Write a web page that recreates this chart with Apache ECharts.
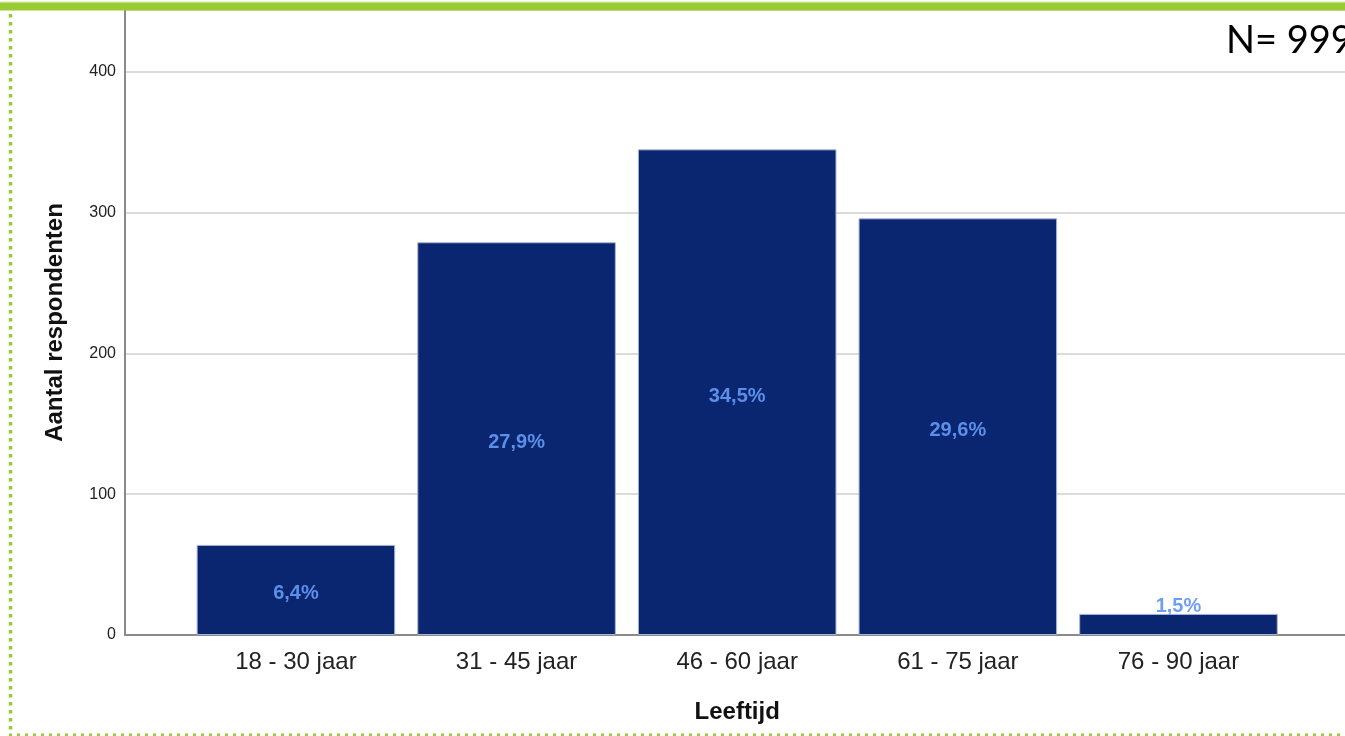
<!DOCTYPE html>
<html>
<head>
<meta charset="utf-8">
<script src="https://cdn.jsdelivr.net/npm/echarts@6/dist/echarts.min.js"></script>
<style>
html,body{margin:0;padding:0;background:#fff;}
#c{width:1345px;height:736px;}
</style>
</head>
<body>
<div id="c"></div>
<script>
const categories = ['18 - 30 jaar', '31 - 45 jaar', '46 - 60 jaar', '61 - 75 jaar', '76 - 90 jaar'];
const counts = [64, 279, 345, 296, 15];
const percentLabels = ['6,4%', '27,9%', '34,5%', '29,6%', '1,5%'];
const yMin = 0, yMax = 444, yInterval = 100;
const xTitle = 'Leeftijd';
const yTitle = 'Aantal respondenten';
const nText = 'N= 999';

const FONT = 'Liberation Sans, Arial, sans-serif';
const chart = echarts.init(document.getElementById('c'), null, {renderer: 'canvas'});

const barData = counts.map(function (v, i) {
  const small = v < 30;
  return {
    value: v,
    label: {
      show: true,
      formatter: percentLabels[i],
      position: small ? 'top' : 'inside',
      distance: small ? -3 : 5,
      offset: small ? [0, 0] : [0, 4],
      color: small ? '#6f9ef5' : '#5b8fe8'
    }
  };
});

chart.setOption({
  animation: false,
  backgroundColor: '#fff',
  grid: [
    {left: 125, right: 0, top: 10, bottom: 101, containLabel: false},
    {left: 185.6, right: 56.2, top: 10, bottom: 101, containLabel: false}
  ],
  xAxis: [
    {gridIndex: 0, type: 'category', data: categories,
     axisLine: {show: true, lineStyle: {color: '#8a8a8a', width: 2}},
     axisTick: {show: false}, axisLabel: {show: false}, splitLine: {show: false}},
    {gridIndex: 1, type: 'category', data: categories,
     axisLine: {show: false}, axisTick: {show: false},
     axisLabel: {fontFamily: FONT, fontSize: 24, color: '#222', margin: 15},
     name: xTitle, nameLocation: 'middle', nameGap: 65,
     nameTextStyle: {fontFamily: FONT, fontSize: 24, fontWeight: 'bold', color: '#111'}}
  ],
  yAxis: [
    {gridIndex: 0, type: 'value', min: yMin, max: yMax, interval: yInterval,
     axisLine: {show: true, lineStyle: {color: '#8a8a8a', width: 2}},
     axisTick: {show: false},
     axisLabel: {fontFamily: FONT, fontSize: 16, color: '#222', margin: 9, showMaxLabel: false},
     splitLine: {show: true, lineStyle: {color: '#cfcfcf', width: 1.5}},
     name: yTitle, nameLocation: 'middle', nameGap: 58,
     nameTextStyle: {fontFamily: FONT, fontSize: 24, fontWeight: 'bold', color: '#111'}},
    {gridIndex: 1, type: 'value', min: yMin, max: yMax, interval: yInterval, show: false,
     splitLine: {show: false}}
  ],
  series: [{
    type: 'bar',
    xAxisIndex: 1, yAxisIndex: 1,
    data: barData,
    barCategoryGap: '10%',
    itemStyle: {color: '#0b2670', borderColor: '#a9b4d3', borderWidth: 1},
    label: {show: true, fontFamily: FONT, fontSize: 20, fontWeight: 'bold'}
  }],
  graphic: [
    {type: 'rect', z: 100, shape: {x: 0, y: 1.5, width: 1345, height: 1}, style: {fill: '#d6eaa8'}},
    {type: 'rect', z: 100, shape: {x: 0, y: 2.5, width: 1345, height: 8}, style: {fill: '#99cc33'}},
    {type: 'line', z: 100, shape: {x1: 10.5, y1: 14, x2: 10.5, y2: 734}, style: {stroke: '#99cc33', lineWidth: 3.5, lineDash: [3.5, 4.5]}},
    {type: 'line', z: 100, shape: {x1: 9, y1: 735, x2: 1345, y2: 735}, style: {stroke: '#99cc33', lineWidth: 3, lineDash: [3, 5]}},
    {type: 'text', z: 100, style: {x: 1226, y: 41, text: nText, fontFamily: 'Lato, sans-serif', fontSize: 38, fill: '#000', textVerticalAlign: 'middle', verticalAlign: 'middle'}}
  ]
});
</script>
</body>
</html>
